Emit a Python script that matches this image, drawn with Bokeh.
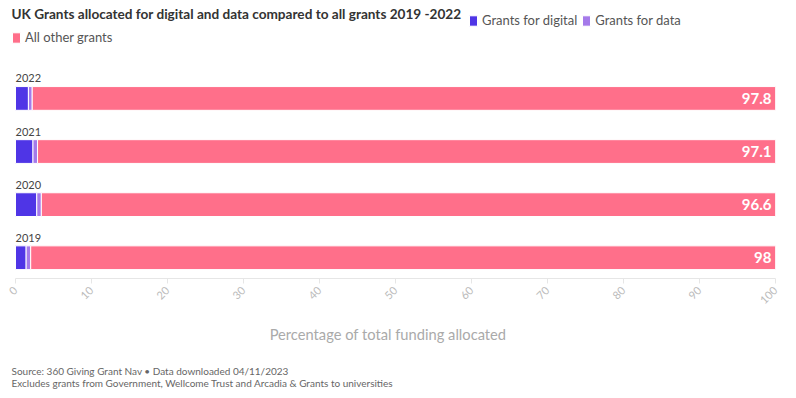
from bokeh.plotting import figure
from bokeh.models import ColumnDataSource, Range1d, Label, Legend, LegendItem
from bokeh.layouts import column
from bokeh.embed import file_html
from bokeh.resources import INLINE
from bokeh.core.properties import value
import math

years = ["2019", "2020", "2021", "2022"]
digital = [1.4, 2.8, 2.3, 1.7]
data = [0.6, 0.6, 0.6, 0.5]
other = [98.0, 96.6, 97.1, 97.8]
ticks = [0, 10, 20, 30, 40, 50, 60, 70, 80, 90, 100]

FONT = "Lato"
C_DIG = "#4F35E6"
C_DATA = "#A57AEA"
C_OTHER = "#FF6F8A"

ypos = list(range(len(years)))
src = ColumnDataSource(dict(
    y=ypos, years=years, digital=digital, data=data, other=other,
    vlabel=[("%g" % v) for v in other],
    xend=[100] * len(years), xstart=[0] * len(years),
))

p = figure(width=788, height=345, output_backend="svg", toolbar_location=None,
           x_range=Range1d(-1.9737, 100), y_range=Range1d(-0.391, 4.8446),
           min_border_left=0, min_border_right=13, min_border_top=0, min_border_bottom=64)
p.outline_line_color = None
p.grid.visible = False
p.yaxis.visible = False

rs = p.hbar_stack(["digital", "data", "other"], y="y", height=0.447, source=src,
                  color=[C_DIG, C_DATA, C_OTHER], line_color="white", line_width=1)

# year labels
p.text(x="xstart", y="y", text="years", source=src, y_offset=-20, text_baseline="middle",
       text_align="left", text_font=value(FONT), text_font_size="11px", text_color="#444444")
# value labels
p.text(x="xend", y="y", text="vlabel", source=src, x_offset=-4, text_baseline="middle",
       text_align="right", text_font=value(FONT), text_font_size="15px",
       text_font_style="bold", text_color="white")

ax = p.xaxis[0]
ax.ticker = ticks
ax.bounds = (0, 100)
ax.major_label_orientation = math.pi / 4
ax.major_label_text_color = "#bbbbbb"
ax.major_label_text_font = FONT
ax.major_label_text_font_size = "11px"
ax.axis_line_color = "#e6e6e6"
ax.major_tick_line_color = "#e6e6e6"
ax.major_tick_out = 5
ax.major_tick_in = 0
ax.minor_tick_line_color = None
ax.axis_label = "Percentage of total funding allocated"
ax.axis_label_text_font = FONT
ax.axis_label_text_font_style = "normal"
ax.axis_label_text_font_size = "14.7px"
ax.axis_label_text_color = "#aaaaaa"
ax.axis_label_standoff = 14

# title
p.add_layout(Label(x=11, y=265, x_units="screen", y_units="screen",
                   text="UK Grants allocated for digital and data compared to all grants 2019 -2022",
                   text_font=FONT, text_font_size="13.6px", text_font_style="bold",
                   text_color="#333333", text_baseline="middle"))

# legend
leg1 = Legend(items=[LegendItem(label="Grants for digital", renderers=[rs[0]]),
                     LegendItem(label="Grants for data", renderers=[rs[1]])],
              location=(468, 250), orientation="horizontal")
leg2 = Legend(items=[LegendItem(label="All other grants", renderers=[rs[2]])],
              location=(11, 233), orientation="horizontal")
for lg in (leg1, leg2):
    lg.padding = 0
    lg.margin = 0
    lg.spacing = 4
    lg.label_standoff = 4
    lg.glyph_width = 10
    lg.glyph_height = 13
    lg.label_height = 13
    lg.label_text_font = FONT
    lg.label_text_font_size = "13px"
    lg.label_text_color = "#555555"
    lg.background_fill_alpha = 0
    lg.border_line_alpha = 0
    p.add_layout(lg, "center")

# footer figure
f = figure(width=788, height=50, output_backend="svg", toolbar_location=None,
           x_range=Range1d(0, 1), y_range=Range1d(0, 1),
           min_border_left=0, min_border_right=0, min_border_top=0, min_border_bottom=0)
f.outline_line_color = None
f.axis.visible = False
f.grid.visible = False
for txt, yy in [("Source: 360 Giving Grant Nav \u2022 Data downloaded 04/11/2023", 25),
                ("Excludes grants from Government, Wellcome Trust and Arcadia & Grants to universities", 13)]:
    f.add_layout(Label(x=11, y=yy, x_units="screen", y_units="screen", text=txt,
                       text_font=FONT, text_font_size="10px", text_color="#666666",
                       text_baseline="middle"))

open("out.html", "w").write(file_html(column(p, f, spacing=0), INLINE))
